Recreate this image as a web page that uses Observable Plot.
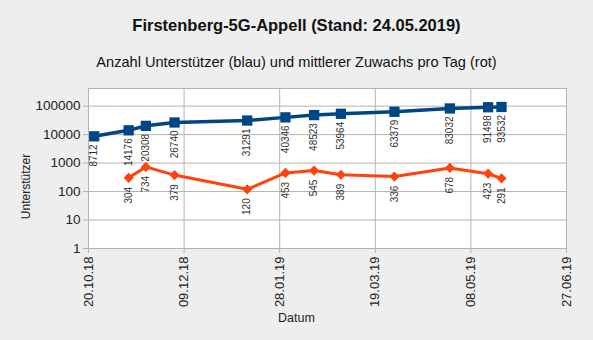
<!DOCTYPE html>
<html>
<head>
<meta charset="utf-8">
<script src="https://cdn.jsdelivr.net/npm/d3@7"></script>
<script src="https://cdn.jsdelivr.net/npm/@observablehq/plot@0.6"></script>
<style>
  html, body { margin: 0; padding: 0; background: #eeeeee; }
  body { width: 593px; height: 340px; overflow: hidden; font-family: "Liberation Sans", Arial, sans-serif; }
  #title { height: 50px; line-height: 50px; text-align: center; font-weight: bold; font-size: 16.5px; color: #111; }
  #subtitle { height: 25px; line-height: 25px; text-align: center; font-size: 14.6px; color: #111; }
</style>
</head>
<body>
<div id="title">Firstenberg-5G-Appell (Stand: 24.05.2019)</div>
<div id="subtitle">Anzahl Unterstützer (blau) und mittlerer Zuwachs pro Tag (rot)</div>
<div id="chart"></div>
<script>
const dates = ["2018-10-23", "2018-11-10", "2018-11-19", "2018-12-04", "2019-01-11", "2019-01-31",
               "2019-02-15", "2019-03-01", "2019-03-29", "2019-04-27", "2019-05-17", "2019-05-24"];
const supporters = [8712, 14176, 20308, 26740, 31291, 40346, 48523, 53964, 63379, 83032, 91498, 93532];
const growthDates = ["2018-11-10", "2018-11-19", "2018-12-04", "2019-01-11", "2019-01-31",
                     "2019-02-15", "2019-03-01", "2019-03-29", "2019-04-27", "2019-05-17", "2019-05-24"];
const growth = [304, 734, 379, 120, 453, 545, 389, 336, 678, 423, 291];
const xTickDates = ["2018-10-20", "2018-12-09", "2019-01-28", "2019-03-19", "2019-05-08", "2019-06-27"];
const yTicks = [1, 10, 100, 1000, 10000, 100000];
const xLabel = "Datum";
const yLabel = "Unterstützer";

const blue = dates.map((d, i) => ({date: new Date(d), value: supporters[i]}));
const red = growthDates.map((d, i) => ({date: new Date(d), value: growth[i]}));
const xTicks = xTickDates.map(d => new Date(d));
const fmt = d3.utcFormat("%d.%m.%y");

const chart = Plot.plot({
  width: 593,
  height: 265,
  marginTop: 13,
  marginBottom: 92,
  marginLeft: 88,
  marginRight: 27,
  style: {background: "transparent", fontFamily: "Liberation Sans, Arial, sans-serif", color: "#222"},
  x: {type: "utc", domain: [xTicks[0], xTicks[xTicks.length - 1]], ticks: xTicks, tickFormat: fmt,
      tickRotate: -90, tickSize: 5, label: null},
  y: {type: "log", domain: [1, Math.pow(10, 5.62)], ticks: yTicks, tickFormat: d => String(d),
      tickSize: 5, label: null},
  marks: [
    Plot.frame({fill: "white"}),
    Plot.ruleY(yTicks, {stroke: "#b3b3b3", strokeWidth: 1}),
    Plot.ruleX(xTicks, {stroke: "#b3b3b3", strokeWidth: 1}),
    Plot.frame({stroke: "#b3b3b3"}),
    Plot.axisX({ticks: xTicks, tickFormat: fmt, tickRotate: -90, tickSize: 5, stroke: "#b3b3b3",
                fontSize: 13, fill: "#222", label: null, tickPadding: 3}),
    Plot.axisY({ticks: yTicks, tickFormat: d => String(d), tickSize: 5, stroke: "#b3b3b3",
                fontSize: 13.5, fill: "#222", label: null, tickPadding: 3}),
    Plot.line(red, {x: "date", y: "value", stroke: "#ff420e", strokeWidth: 3}),
    Plot.dot(red, {x: "date", y: "value", symbol: "diamond2", r: 4.6, fill: "#ff420e", stroke: "none"}),
    Plot.line(blue, {x: "date", y: "value", stroke: "#004586", strokeWidth: 3.5}),
    Plot.dot(blue, {x: "date", y: "value", symbol: "square", r: 5.8, fill: "#004586", stroke: "none"}),
    Plot.text(blue, {x: "date", y: "value", text: d => String(d.value), rotate: -90, textAnchor: "end",
                     lineAnchor: "middle", dy: 8, fontSize: 10, fill: "#333"}),
    Plot.text(red, {x: "date", y: "value", text: d => String(d.value), rotate: -90, textAnchor: "end",
                    lineAnchor: "middle", dy: 9, fontSize: 10, fill: "#333"}),
    Plot.text([xLabel], {frameAnchor: "bottom", textAnchor: "middle", dx: -31, dy: 73, fontSize: 12.5, fill: "#222"}),
    Plot.text([yLabel], {frameAnchor: "left", textAnchor: "middle", dx: -62, dy: 18, rotate: -90, fontSize: 12, fill: "#222"})
  ]
});
document.getElementById("chart").appendChild(chart);
</script>
</body>
</html>
